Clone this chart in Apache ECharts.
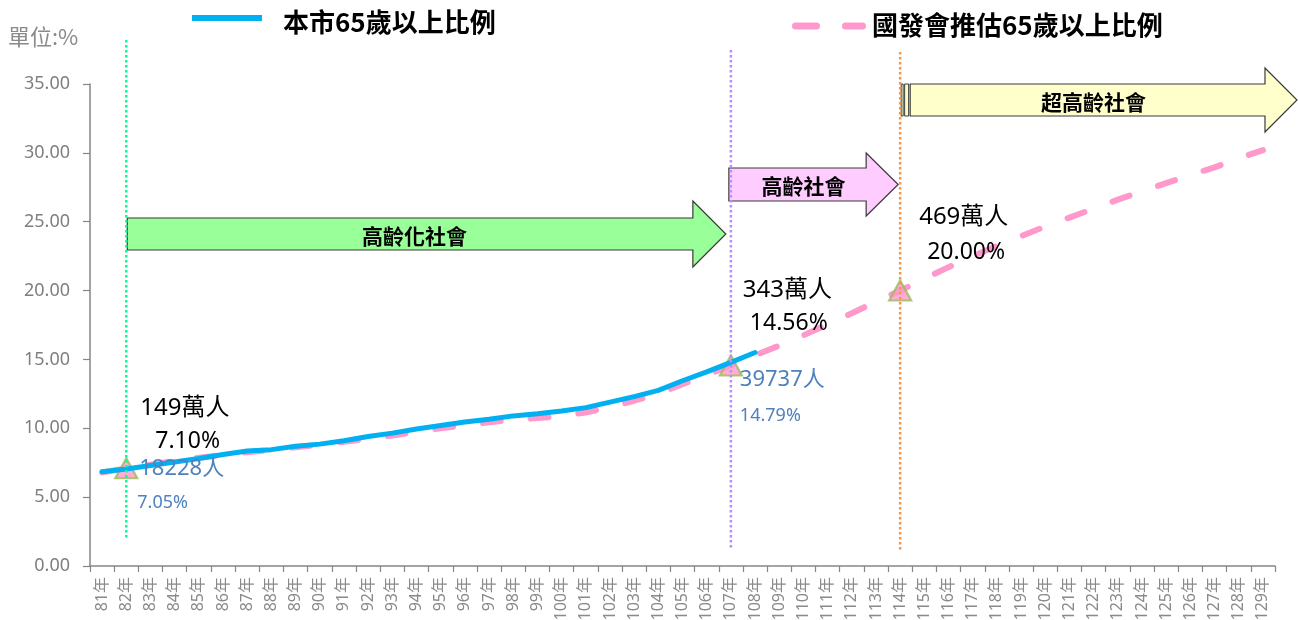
<!DOCTYPE html>
<html><head><meta charset="utf-8">
<script src="https://cdn.jsdelivr.net/npm/echarts@6/dist/echarts.min.js"></script>
<style>html,body{margin:0;padding:0;background:#fff}#c{width:1298px;height:620px}</style>
</head><body><div id="c"></div>
<script>
// ---------- data ----------
const categories = ['81年','82年','83年','84年','85年','86年','87年','88年','89年','90年',
  '91年','92年','93年','94年','95年','96年','97年','98年','99年','100年',
  '101年','102年','103年','104年','105年','106年','107年','108年','109年','110年',
  '111年','112年','113年','114年','115年','116年','117年','118年','119年','120年',
  '121年','122年','123年','124年','125年','126年','127年','128年','129年'];
const seriesNames = ['本市65歲以上比例','國發會推估65歲以上比例'];
const cityRatio = [6.85,7.05,7.30,7.55,7.80,8.10,8.35,8.45,8.70,8.85,
  9.10,9.40,9.65,9.95,10.20,10.45,10.65,10.90,11.05,11.25,
  11.50,11.90,12.30,12.75,13.45,14.10,14.79,15.50];
const ndcRatio = [6.79,7.10,7.36,7.64,7.86,8.06,8.26,8.44,8.62,8.81,
  9.02,9.24,9.48,9.74,10.00,10.21,10.43,10.63,10.74,10.89,
  11.15,11.53,12.00,12.51,13.20,13.86,14.56,15.30,16.00,16.75,
  17.55,18.35,19.20,20.00,20.85,21.70,22.50,23.25,23.95,24.65,
  25.30,25.95,26.60,27.20,27.80,28.40,28.95,29.60,30.20];
const markerCats = ['82年','107年','114年'];
const markerVals = [7.10,14.56,20.00];
const nationalPeople = ['149萬人','343萬人','469萬人'];
const nationalPct = ['7.10%','14.56%','20.00%'];
const cityPeople = ['18228人','39737人'];
const cityPct = ['7.05%','14.79%'];
const stageNames = ['高齡化社會','高齡社會','超高齡社會'];
const unitLabel = '單位:%';
const yMin = 0, yMax = 35, yStep = 5;

// ---------- chart ----------
const FONT = "'Noto Sans','Noto Sans CJK TC',sans-serif";
const CJK = "'Noto Sans CJK TC','Noto Sans',sans-serif";
const chart = echarts.init(document.getElementById('c'), null, {renderer:'canvas'});
const option = {
  animation:false,
  backgroundColor:'#fff',
  grid:{left:90,right:23,top:84,bottom:54,containLabel:false,outerBoundsMode:'none'},
  xAxis:{type:'category',data:categories,boundaryGap:true,
    axisLine:{lineStyle:{color:'#868686',width:1.5}},
    axisTick:{show:true,interval:0,length:6,lineStyle:{color:'#868686',width:1.2}},
    axisLabel:{interval:0,rotate:90,fontSize:16,color:'#8a8a8a',margin:11,fontFamily:FONT},
    splitLine:{show:false}},
  yAxis:{type:'value',min:yMin,max:yMax,interval:yStep,
    axisLine:{show:true,lineStyle:{color:'#868686',width:1.5}},
    axisTick:{show:true,length:7,lineStyle:{color:'#868686',width:1.2}},
    axisLabel:{fontSize:18,color:'#7f7f7f',margin:20,fontFamily:FONT,formatter:v=>v.toFixed(2)},
    splitLine:{show:false}},
  series:[
    {name:seriesNames[1],type:'line',data:ndcRatio,symbol:'none',z:2,
      lineStyle:{color:'#FF99CC',width:6,type:[18,30],cap:'round'}},
    {name:'marker',type:'scatter',z:3,symbol:'triangle',symbolSize:[22,20],
      data:markerCats.map((c,i)=>[c,markerVals[i]]),
      itemStyle:{color:'#FF99CC',borderColor:'#9BBB59',borderWidth:2.2}},
    {name:seriesNames[0],type:'line',data:cityRatio,symbol:'none',z:4,
      lineStyle:{color:'#00B0F0',width:5,cap:'round'}}
  ]
};
chart.setOption(option);

const P = (cat,v)=>chart.convertToPixel({gridIndex:0},[categories.indexOf(cat),v]);
const g = [];
function txt(x,y,text,size,fill,opts){
  g.push({type:'text',x:x,y:y,z:20,silent:true,
    style:{text:text,fontSize:size,fill:fill,fontFamily:(opts&&opts.ff)||CJK,
      fontWeight:(opts&&opts.fw)||'normal',textAlign:(opts&&opts.align)||'left',textVerticalAlign:'middle'}});
}
function vline(x,y1,y2,color){
  g.push({type:'line',z:15,silent:true,shape:{x1:x,y1:y1,x2:x,y2:y2},
    style:{stroke:color,lineWidth:2.5,lineDash:[2.5,2.5]}});
}
function arrow(x0,hb,tip,yc,bh,hh,fill){
  g.push({type:'polygon',z:12,silent:true,shape:{points:[[x0,yc-bh],[hb,yc-bh],[hb,yc-hh],[tip,yc],[hb,yc+hh],[hb,yc+bh],[x0,yc+bh]]},
    style:{fill:fill,stroke:'#3a3a3a',lineWidth:1.2}});
}
const p82 = P(markerCats[0],markerVals[0]);
const p107 = P(markerCats[1],markerVals[1]);
const p114 = P(markerCats[2],markerVals[2]);
const W = chart.getWidth();

// vertical dotted lines
vline(p82[0],40,540,'#00FF99');
vline(p107[0],50,550,'#B98CFF');
vline(p114[0],52,552,'#F79646');

// stage arrows
{ const tip=p107[0]-5; arrow(p82[0]+1,tip-33,tip,234,16,33,'#99FF99');
  txt((p82[0]+tip-33)/2+5,236,stageNames[0],21,'#000',{fw:'bold',align:'center'}); }
{ const tip=p114[0]-2; arrow(p107[0]-2,tip-32,tip,184.5,16.5,31.5,'#FFCCFF');
  txt((p107[0]-2+tip-32)/2+6,186,stageNames[1],21,'#000',{fw:'bold',align:'center'}); }
{ const tip=W-1, x0=p114[0]+10; arrow(x0,tip-32,tip,100,16,32,'#FFFFCC');
  g.push({type:'rect',z:12,silent:true,shape:{x:p114[0]+1,y:84,width:2,height:32},style:{fill:'#FFFFCC',stroke:'#3a3a3a',lineWidth:1}});
  g.push({type:'rect',z:12,silent:true,shape:{x:p114[0]+4.5,y:84,width:4,height:32},style:{fill:'#FFFFCC',stroke:'#3a3a3a',lineWidth:1}});
  txt((x0+tip-32)/2+6,102,stageNames[2],21,'#000',{fw:'bold',align:'center'}); }

// annotations
const pts=[p82,p107,p114];
const natOff=[[14,-60,29,-27],[12,-75,19,-42],[19,-73,27,-38]];
pts.forEach((p,i)=>{
  txt(p[0]+natOff[i][0],p[1]+natOff[i][1],nationalPeople[i],24,'#000',{ff:FONT});
  txt(p[0]+natOff[i][2],p[1]+natOff[i][3],nationalPct[i],23,'#000',{ff:FONT});
});
const cityOff=[[13,1,11,35],[9,14,9,50]];
[p82,p107].forEach((p,i)=>{
  txt(p[0]+cityOff[i][0],p[1]+cityOff[i][1],cityPeople[i],22,'#4F81BD',{ff:FONT});
  txt(p[0]+cityOff[i][2],p[1]+cityOff[i][3],cityPct[i],18,'#4F81BD',{ff:FONT});
});

// legend & unit
g.push({type:'line',z:20,silent:true,shape:{x1:192,y1:18,x2:262,y2:18},style:{stroke:'#00B0F0',lineWidth:6}});
txt(283,22,seriesNames[0],26,'#000',{fw:'bold'});
g.push({type:'line',z:20,silent:true,shape:{x1:795.5,y1:26,x2:816.5,y2:26},style:{stroke:'#FF99CC',lineWidth:7,lineCap:'round'}});
g.push({type:'line',z:20,silent:true,shape:{x1:845.5,y1:26,x2:862.5,y2:26},style:{stroke:'#FF99CC',lineWidth:7,lineCap:'round'}});
txt(872,25,seriesNames[1],26,'#000',{fw:'bold'});
txt(8,37,unitLabel,22,'#8a8a8a');

chart.setOption({graphic:g});
</script></body></html>
